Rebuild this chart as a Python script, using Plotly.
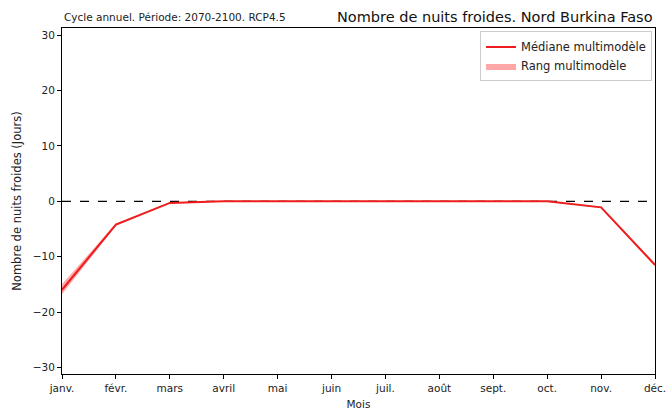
import plotly.graph_objects as go

months = ["janv.", "févr.", "mars", "avril", "mai", "juin", "juil.", "août", "sept.", "oct.", "nov.", "déc."]
median = [-16.0, -4.2, -0.3, 0.0, 0.0, 0.0, 0.0, 0.0, 0.0, 0.0, -1.1, -11.5]
upper = [-15.0, -4.0, -0.2, 0.0, 0.0, 0.0, 0.0, 0.0, 0.0, 0.0, -1.0, -11.2]
lower = [-16.8, -4.4, -0.4, -0.1, 0.0, 0.0, 0.0, 0.0, 0.0, -0.1, -1.2, -11.8]
y_ticks = [-30, -20, -10, 0, 10, 20, 30]

x = list(range(len(months)))

fig = go.Figure()
fig.add_trace(go.Scatter(
    x=x + x[::-1], y=upper + lower[::-1], fill="toself",
    fillcolor="rgba(255,60,60,0.45)", line=dict(width=0),
    name="Rang multimodèle", hoverinfo="skip"))
fig.add_trace(go.Scatter(
    x=x, y=median, mode="lines", line=dict(color="#ee1c1c", width=2),
    name="Médiane multimodèle"))

fig.add_shape(type="line", xref="paper", x0=0, x1=1, yref="y", y0=0, y1=0,
              line=dict(color="black", width=1.3, dash="dash"), layer="below")

fig.update_layout(
    width=666, height=412,
    margin=dict(l=62, r=11, t=28, b=38),
    paper_bgcolor="white", plot_bgcolor="white",
    font=dict(family="DejaVu Sans", size=10.5, color="#222"),
    showlegend=True,
    legend=dict(x=0.995, y=0.99, xanchor="right", yanchor="top",
                bgcolor="rgba(255,255,255,0.9)", bordercolor="#cccccc", borderwidth=1,
                font=dict(size=11.5), traceorder="reversed", tracegroupgap=0,
                itemwidth=30),
    xaxis=dict(range=[0, 11], tickmode="array", tickvals=x, ticktext=months,
               showgrid=False, zeroline=False, showline=True, linecolor="black",
               linewidth=1, mirror=True, ticks="outside", ticklen=4, tickcolor="black",
               automargin=False, ticklabeloverflow="allow",
               title=dict(text="Mois", font=dict(size=10.5), standoff=8)),
    yaxis=dict(range=[-31.2, 31.3], tickmode="array", tickvals=y_ticks,
               showgrid=False, zeroline=False, showline=True, linecolor="black",
               linewidth=1, mirror=True, ticks="outside", ticklen=4, tickcolor="black",
               automargin=False, ticklabeloverflow="allow",
               title=dict(text="Nombre de nuits froides (Jours)", font=dict(size=11.5), standoff=8)),
    annotations=[
        dict(text="Cycle annuel. Période: 2070-2100. RCP4.5", xref="paper", yref="paper",
             x=0, y=1, xanchor="left", yanchor="bottom", yshift=3, showarrow=False,
             font=dict(size=10.5)),
        dict(text="Nombre de nuits froides. Nord Burkina Faso", xref="paper", yref="paper",
             x=1, y=1, xanchor="right", yanchor="bottom", yshift=1, showarrow=False,
             font=dict(size=14.5, color="#111")),
    ],
)

fig.write_html("out.html", config={"displayModeBar": False},
               post_script="document.body.style.margin='0';")
